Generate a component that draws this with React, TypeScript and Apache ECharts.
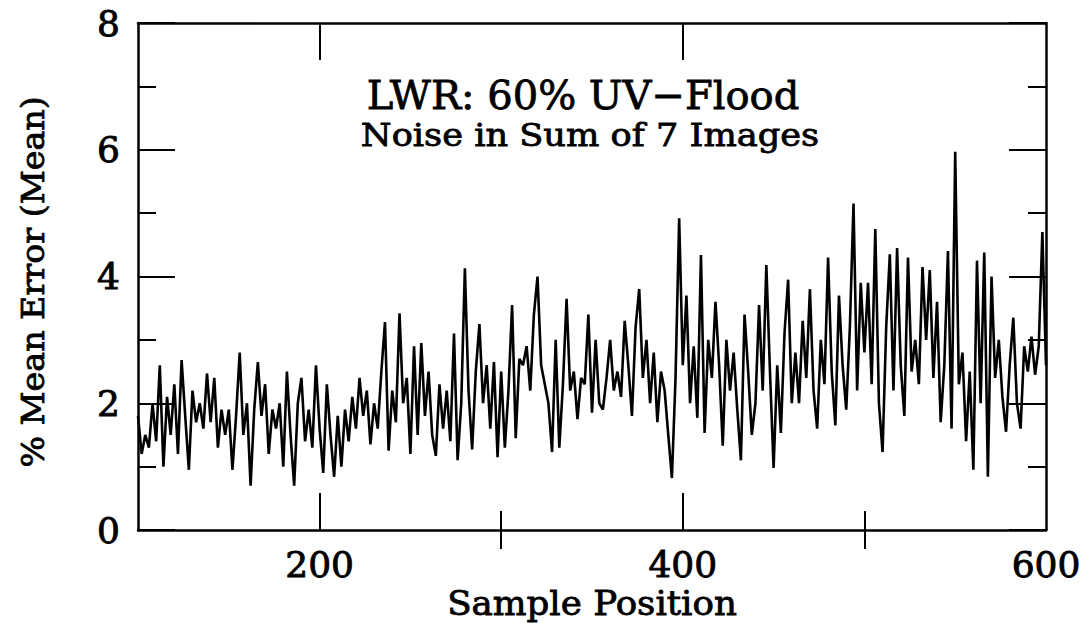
import React, { useEffect, useRef } from "react";
import * as echarts from "echarts";

// Sample positions run from 100 to 600, one reading every 2 samples
const sampleStart = 100;
const sampleStep = 2;

// % mean error (mean), 100..148
const errA = [1.8, 1.2, 1.5, 1.3, 2.0, 1.4, 2.6, 1.0, 2.1, 1.5, 2.3, 1.2, 2.68, 1.8, 0.95, 2.2, 1.7, 2.0, 1.6, 2.47, 1.7, 2.4, 1.3, 1.9, 1.5];
// 150..198
const errB = [1.9, 0.95, 1.8, 2.8, 1.5, 2.0, 0.7, 1.9, 2.65, 1.8, 2.3, 1.2, 1.9, 1.6, 2.0, 1.0, 2.5, 1.5, 0.7, 2.0, 2.4, 1.4, 1.9, 1.3, 2.6];
// 200..248
const errC = [1.6, 0.9, 2.3, 1.5, 0.84, 1.8, 1.0, 1.9, 1.4, 2.1, 1.6, 2.4, 1.8, 2.2, 1.35, 2.0, 1.6, 2.5, 3.28, 1.25, 2.2, 1.7, 3.42, 2.0, 2.4];
// 250..298
const errD = [1.2, 2.9, 1.5, 2.95, 1.8, 2.5, 1.5, 1.17, 2.3, 1.6, 2.2, 1.4, 3.1, 1.1, 2.0, 4.13, 2.2, 1.27, 2.5, 3.25, 2.0, 2.6, 1.6, 2.65, 1.15];
// 300..348
const errE = [2.5, 1.3, 2.2, 3.55, 1.45, 2.7, 2.6, 2.9, 2.2, 3.4, 4.0, 2.6, 2.3, 2.0, 1.23, 3.0, 1.3, 2.3, 3.65, 2.2, 2.5, 1.75, 2.4, 2.3, 3.4];
// 350..398
const errF = [1.85, 3.0, 2.0, 1.9, 2.4, 3.0, 2.2, 2.5, 2.1, 3.3, 2.6, 1.8, 3.2, 3.8, 2.4, 3.0, 2.0, 2.8, 1.7, 2.5, 2.2, 1.5, 0.82, 2.4, 4.92];
// 400..448
const errG = [2.6, 3.7, 2.0, 2.9, 1.77, 4.34, 1.53, 3.0, 2.4, 3.6, 2.6, 1.33, 3.0, 2.2, 2.8, 1.9, 1.1, 3.4, 2.5, 1.5, 2.0, 3.55, 2.2, 4.18, 2.5];
// 450..498
const errH = [0.98, 2.6, 1.53, 3.1, 3.95, 2.0, 2.8, 2.0, 3.3, 2.4, 3.8, 2.2, 1.6, 3.0, 2.3, 4.3, 2.5, 1.65, 3.7, 2.6, 1.9, 3.2, 5.15, 2.2, 3.9];
// 500..548
const errI = [2.8, 3.9, 2.3, 4.75, 2.0, 1.23, 3.2, 4.35, 2.2, 4.45, 2.6, 1.8, 4.3, 2.5, 3.0, 2.3, 4.15, 3.0, 4.1, 2.4, 3.6, 1.7, 2.6, 4.4, 1.6];
// 550..600
const errJ = [5.97, 2.3, 2.8, 1.4, 2.5, 0.95, 4.25, 2.0, 4.38, 0.84, 4.0, 2.4, 3.0, 2.1, 1.55, 2.6, 3.35, 2.0, 1.6, 2.9, 2.5, 3.05, 2.45, 2.9, 4.7, 2.6];

const meanErrorPct = [...errA, ...errB, ...errC, ...errD, ...errE, ...errF, ...errG, ...errH, ...errI, ...errJ];

const xMajorTicks = [200, 400];
const xMinorTicks = [300, 500];
const xTickLabels = [200, 400, 600];

const titleText = "LWR: 60% UV\u2212Flood";
const subtitleText = "Noise in Sum of 7 Images";
const xTitle = "Sample Position";
const yTitle = "% Mean Error (Mean)";

const FONT = "DejaVu Serif";

export default function App() {
  const ref = useRef<HTMLDivElement>(null);
  useEffect(() => {
    if (!ref.current) return;
    const chart = echarts.init(ref.current, null, { renderer: "svg" });
    const data = meanErrorPct.map((v, i) => [sampleStart + i * sampleStep, v]);
    const frameLine = { show: true, onZero: false, lineStyle: { color: "#000", width: 2.5 } };
    const tickLabel = {
      color: "#000",
      fontSize: 36,
      fontFamily: FONT,
      textBorderColor: "#000",
      textBorderWidth: 0.9,
    };
    const baseX = {
      type: "value" as const,
      min: 100,
      max: 600,
      splitLine: { show: false },
    };
    const txt = (text: string, size: number) => ({
      text,
      font: `${size}px "${FONT}"`,
      fill: "#000",
      stroke: "#000",
      lineWidth: 0.8,
      align: "center",
      verticalAlign: "middle",
    });
    chart.setOption({
      animation: false,
      backgroundColor: "#fff",
      grid: { left: 138, right: 40, top: 23, bottom: 93, containLabel: false },
      xAxis: [
        {
          ...baseX,
          position: "bottom",
          axisLine: frameLine,
          axisTick: { show: true, inside: true, length: 37, customValues: xMajorTicks, lineStyle: { color: "#000", width: 2 } },
          axisLabel: { show: true, customValues: xTickLabels, margin: 16, ...tickLabel },
        },
        {
          ...baseX,
          position: "bottom",
          axisLine: { show: false },
          axisTick: { show: true, inside: true, length: 19, customValues: xMinorTicks, lineStyle: { color: "#000", width: 2 } },
          axisLabel: { show: false },
        },
        {
          ...baseX,
          position: "top",
          axisLine: frameLine,
          axisTick: { show: true, inside: true, length: 37, customValues: xMajorTicks, lineStyle: { color: "#000", width: 2 } },
          axisLabel: { show: false },
        },
        {
          ...baseX,
          position: "top",
          axisLine: { show: false },
          axisTick: { show: true, inside: true, length: 19, customValues: xMinorTicks, lineStyle: { color: "#000", width: 2 } },
          axisLabel: { show: false },
        },
      ],
      yAxis: [
        {
          type: "value",
          position: "left",
          min: 0,
          max: 8,
          interval: 2,
          splitLine: { show: false },
          axisLine: frameLine,
          axisTick: { show: true, inside: true, length: 37, lineStyle: { color: "#000", width: 2 } },
          minorTick: { show: true, splitNumber: 2, length: 18, lineStyle: { color: "#000", width: 2 } },
          axisLabel: { show: true, margin: 18, ...tickLabel },
        },
        {
          type: "value",
          position: "right",
          min: 0,
          max: 8,
          interval: 2,
          splitLine: { show: false },
          axisLine: frameLine,
          axisTick: { show: true, inside: true, length: 37, lineStyle: { color: "#000", width: 2 } },
          minorTick: { show: true, splitNumber: 2, length: 18, lineStyle: { color: "#000", width: 2 } },
          axisLabel: { show: false },
        },
      ],
      series: [
        {
          type: "line",
          xAxisIndex: 0,
          yAxisIndex: 0,
          data,
          symbol: "none",
          showSymbol: false,
          lineStyle: { color: "#000", width: 2.6 },
          z: 1,
        },
      ],
      graphic: [
        { type: "text", x: 583, y: 95, style: txt(titleText, 40) },
        { type: "text", x: 590, y: 135, scaleX: 1.1, style: txt(subtitleText, 32) },
        { type: "text", x: 592, y: 603, scaleX: 1.08, style: txt(xTitle, 33) },
        { type: "text", x: 33, y: 282, rotation: Math.PI / 2, scaleX: 1.04, style: txt(yTitle, 32) },
      ],
    });
    return () => chart.dispose();
  }, []);
  return <div ref={ref} style={{ width: 1086, height: 623, position: "absolute", left: 0, top: 0 }} />;
}
